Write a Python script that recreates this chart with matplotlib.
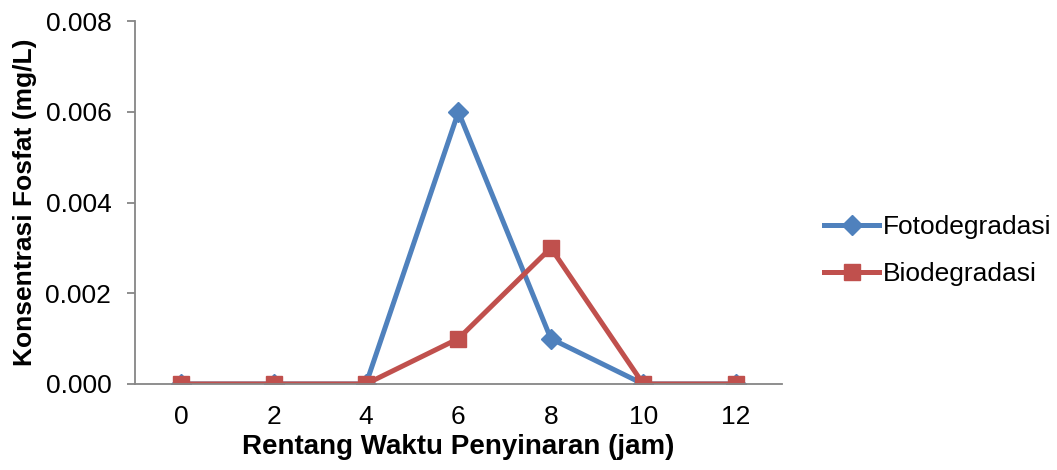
import matplotlib.pyplot as plt
import numpy as np

plt.rcParams['font.family'] = ['Liberation Sans', 'DejaVu Sans']

jam = ['0', '2', '4', '6', '8', '10', '12']
fotodegradasi = [0, 0, 0, 0.006, 0.001, 0, 0]
biodegradasi = [0, 0, 0, 0.001, 0.003, 0, 0]

biru = '#4F81BD'
merah = '#C0504D'
abu = '#868686'

fig = plt.figure(figsize=(10.57, 4.70), dpi=100)
ax = fig.add_axes([0.1277, 0.183, 0.612, 0.772])

x = np.arange(len(jam))
ax.plot(x, fotodegradasi, color=biru, lw=3.6, marker='D', ms=10,
        label='Fotodegradasi')
ax.plot(x, biodegradasi, color=merah, lw=3.6, marker='s', ms=12,
        label='Biodegradasi')

ax.set_xlim(-0.5, len(jam) - 0.5)
ax.set_ylim(0, 0.008)
ax.set_xticks(x)
ax.set_xticklabels(jam)
ax.set_yticks(np.arange(0, 0.0081, 0.002))
ax.yaxis.set_major_formatter(plt.FormatStrFormatter('%.3f'))

for s in ['top', 'right']:
    ax.spines[s].set_visible(False)
for s in ['left', 'bottom']:
    ax.spines[s].set_color(abu)
    ax.spines[s].set_linewidth(1.3)
ax.tick_params(axis='x', length=0, labelsize=19, pad=15)
ax.tick_params(axis='y', length=6, color=abu, width=1.3, labelsize=19, pad=11)

ax.set_xlabel('Rentang Waktu Penyinaran (jam)', fontsize=20, fontweight='bold',
              labelpad=4)
ax.set_ylabel('Konsentrasi Fosfat (mg/L)', fontsize=19, fontweight='bold',
              labelpad=6)

fig.legend(loc='center left', bbox_to_anchor=(0.757, 0.467), frameon=False,
           fontsize=19, handlelength=2.1, handletextpad=0.15, labelspacing=0.87)

fig.savefig('out.png', dpi=100)
